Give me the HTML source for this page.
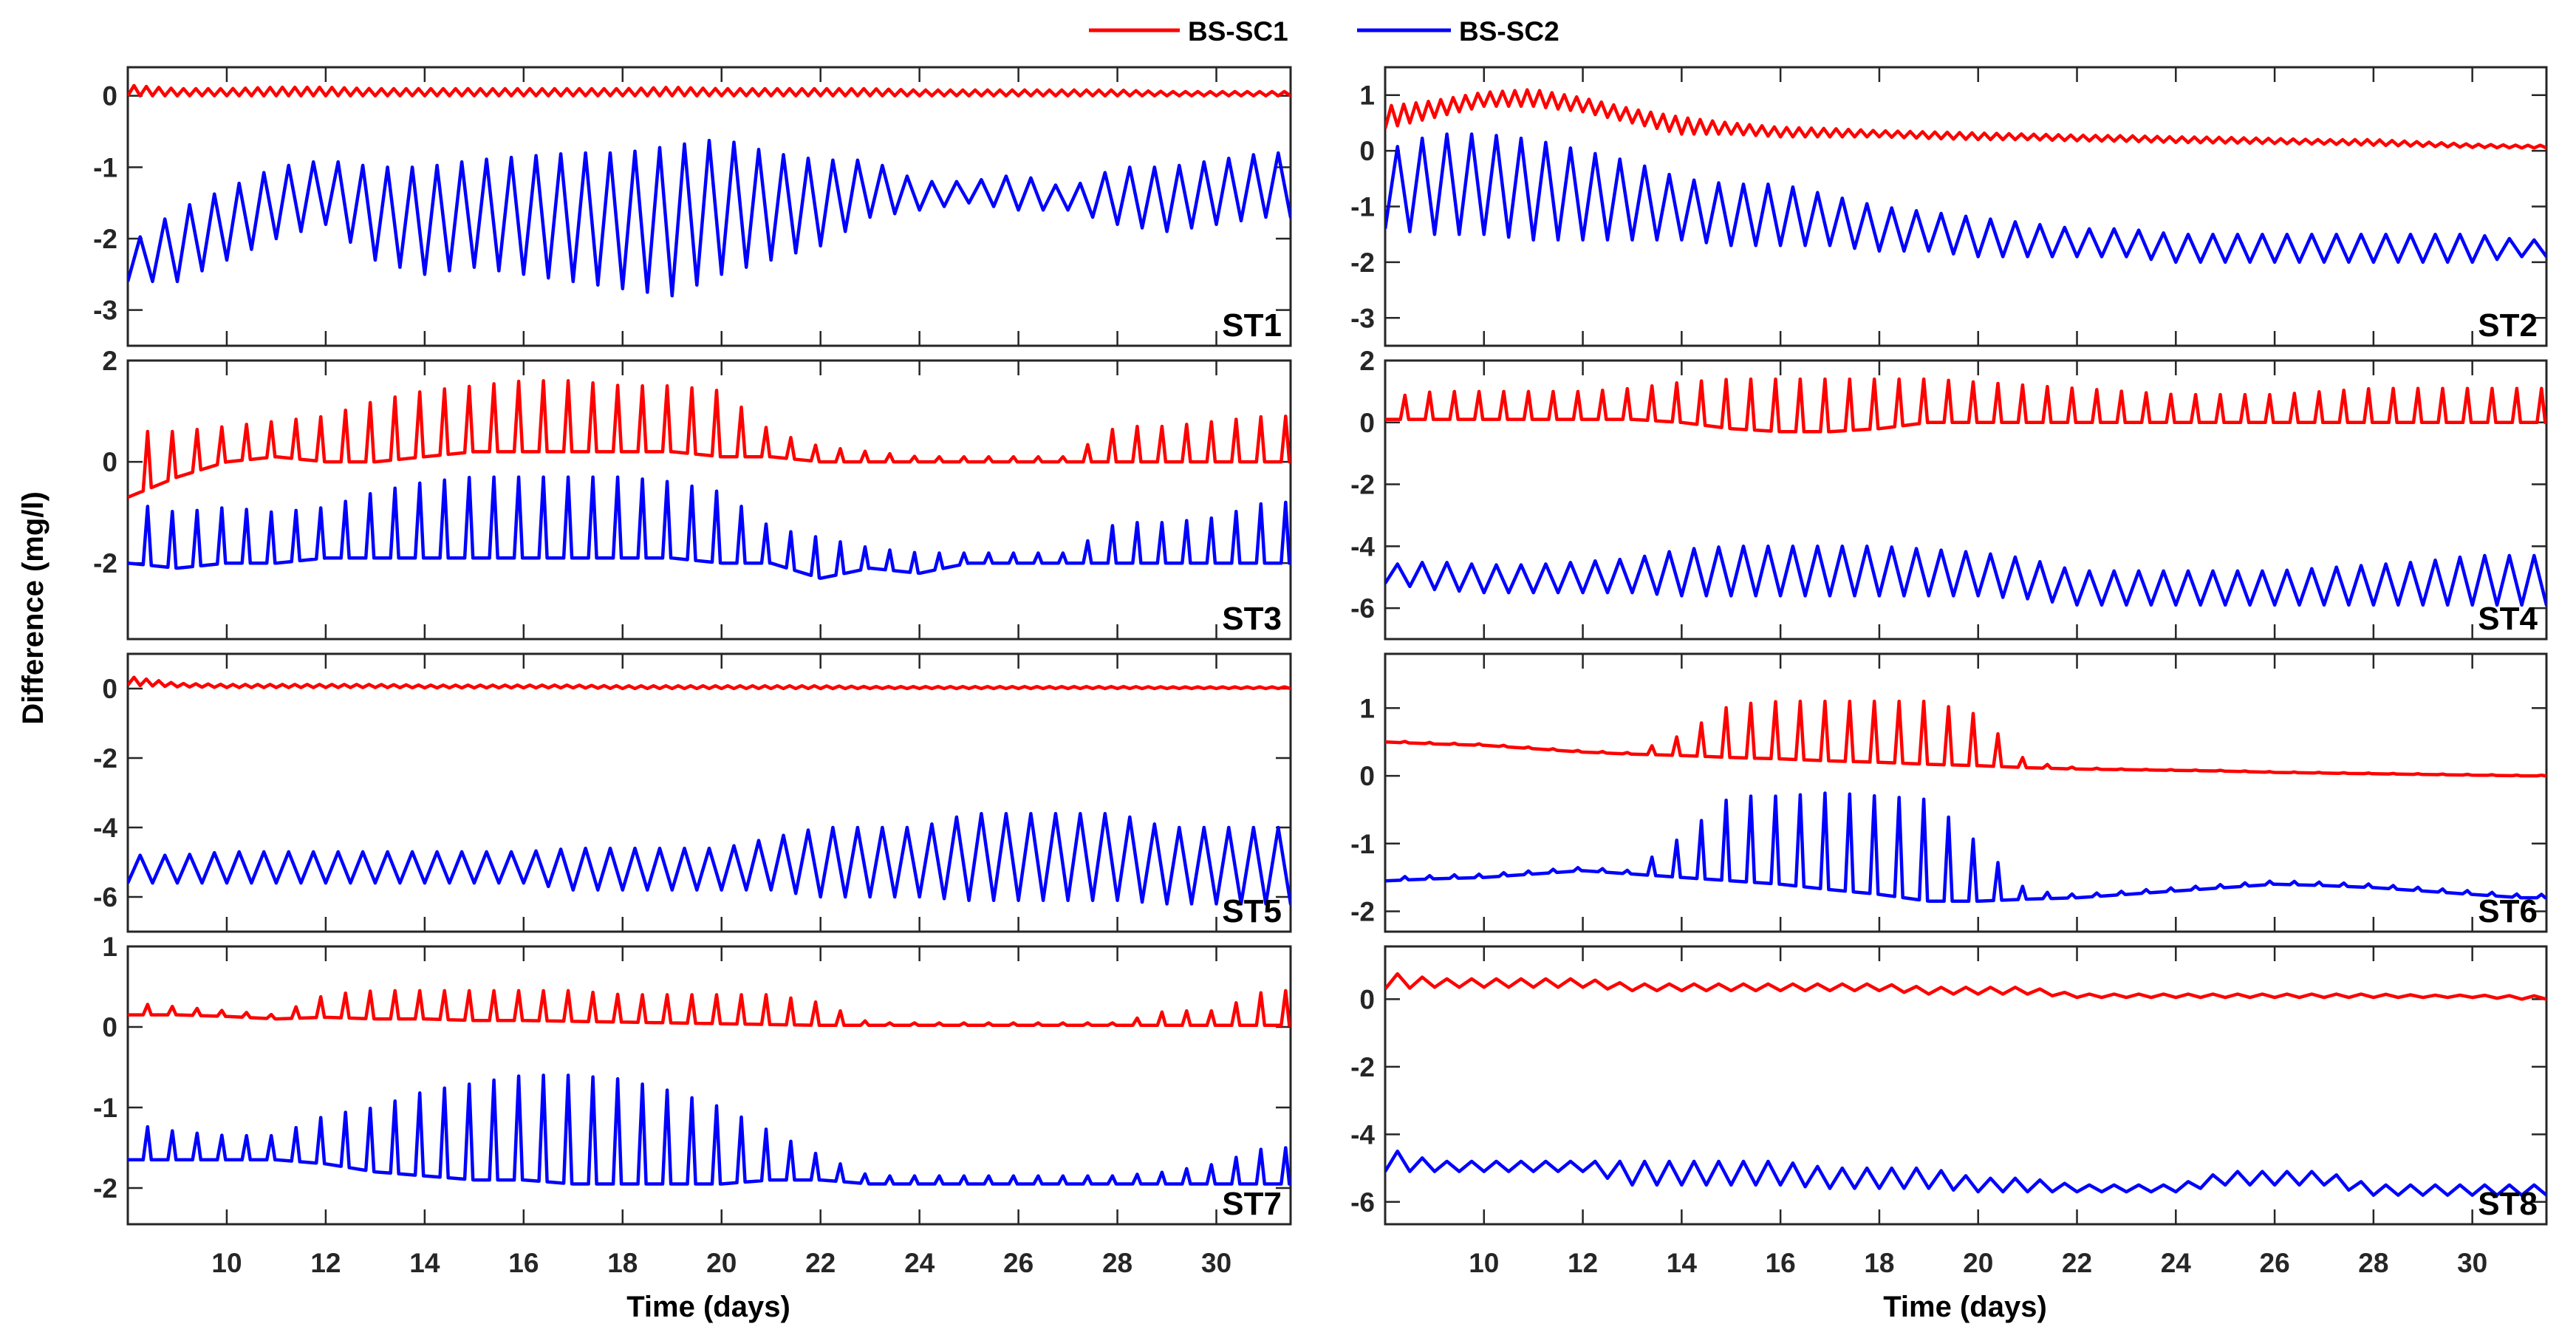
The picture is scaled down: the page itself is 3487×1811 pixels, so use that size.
<!DOCTYPE html>
<html><head><meta charset="utf-8"><style>
html,body{margin:0;padding:0;background:#fff;}
svg{display:block;font-family:"Liberation Sans",Arial,sans-serif;font-weight:bold;}
</style></head><body>
<svg id="fig" width="3487" height="1811" viewBox="0 0 3487 1811" xmlns="http://www.w3.org/2000/svg">
<g>
<line x1="1474" y1="41" x2="1597" y2="41" stroke="#ff0000" stroke-width="5"/>
<text x="1608" y="55" font-size="37">BS-SC1</text>
<line x1="1837" y1="41" x2="1964" y2="41" stroke="#0000ff" stroke-width="5"/>
<text x="1975" y="55" font-size="37">BS-SC2</text>
</g>
<text transform="translate(58,823) rotate(-90)" text-anchor="middle" font-size="40">Difference (mg/l)</text>
<text x="959" y="1782" text-anchor="middle" font-size="40">Time (days)</text>
<text x="2660" y="1782" text-anchor="middle" font-size="40">Time (days)</text>
<g id="panels"></g>
</svg>
<script>
const days = [8,9,10,11,12,13,14,15,16,17,18,19,20,21,22,23,24,25,26,27,28,29,30,31];
const xTicks = [10,12,14,16,18,20,22,24,26,28,30];

const st1Yticks=[0,-1,-2,-3];
const st1RedLo=[0,0,0,0,0,0,0,0,0,0,0,0,0,0,0,0,0,0,0,0,0,0,0,0];
const st1RedHi=[0.15,0.1,0.1,0.12,0.12,0.1,0.1,0.1,0.1,0.1,0.1,0.12,0.1,0.1,0.1,0.1,0.08,0.08,0.08,0.08,0.08,0.06,0.06,0.06];
const st1BlueLo=[-2.6,-2.6,-2.3,-2.0,-1.8,-2.3,-2.5,-2.4,-2.5,-2.6,-2.7,-2.8,-2.5,-2.3,-2.1,-1.7,-1.6,-1.5,-1.6,-1.6,-1.8,-1.9,-1.8,-1.7];
const st1BlueHi=[-2.1,-1.6,-1.3,-1.0,-0.9,-1.0,-1.0,-0.9,-0.85,-0.8,-0.8,-0.7,-0.6,-0.8,-0.9,-0.9,-1.2,-1.2,-1.1,-1.3,-1.0,-1.0,-0.9,-0.8];

const st2Yticks=[1,0,-1,-2,-3];
const st2RedLo=[0.4,0.6,0.8,0.8,0.7,0.5,0.3,0.3,0.25,0.25,0.25,0.22,0.2,0.2,0.18,0.17,0.15,0.14,0.13,0.12,0.1,0.08,0.06,0.05];
const st2RedHi=[0.8,0.9,1.05,1.1,0.95,0.75,0.6,0.5,0.42,0.4,0.36,0.34,0.32,0.3,0.28,0.27,0.25,0.24,0.22,0.2,0.2,0.16,0.12,0.1];
const st2BlueLo=[-1.4,-1.5,-1.5,-1.6,-1.6,-1.6,-1.6,-1.7,-1.7,-1.7,-1.8,-1.8,-1.9,-1.9,-1.9,-1.9,-2.0,-2.0,-2.0,-2.0,-2.0,-2.0,-2.0,-1.9];
const st2BlueHi=[0.0,0.3,0.3,0.2,0.0,-0.2,-0.5,-0.6,-0.6,-0.8,-1.0,-1.1,-1.2,-1.3,-1.4,-1.4,-1.5,-1.5,-1.5,-1.5,-1.5,-1.5,-1.5,-1.6];

const st3Yticks=[2,0,-2];
const st3RedLo=[-0.7,-0.3,0,0.1,0,0,0.1,0.2,0.2,0.2,0.2,0.2,0.1,0.1,0,0,0,0,0,0,0,0,0,0];
const st3RedHi=[0.6,0.6,0.7,0.8,0.9,1.2,1.4,1.5,1.6,1.6,1.5,1.5,1.4,0.6,0.3,0.2,0.1,0.1,0.1,0.1,0.7,0.7,0.8,0.9];
const st3BlueLo=[-2.0,-2.1,-2.0,-2.0,-1.9,-1.9,-1.9,-1.9,-1.9,-1.9,-1.9,-1.9,-2.0,-2.0,-2.3,-2.1,-2.2,-2.0,-2.0,-2.0,-2.0,-2.0,-2.0,-2.0];
const st3BlueHi=[-0.8,-1.0,-0.9,-1.0,-0.9,-0.6,-0.4,-0.3,-0.3,-0.3,-0.3,-0.4,-0.6,-1.3,-1.5,-1.7,-1.8,-1.8,-1.8,-1.8,-1.2,-1.2,-1.1,-0.8];

const st4Yticks=[2,0,-2,-4,-6];
const st4RedLo=[0.1,0.1,0.1,0.1,0.1,0.1,0,-0.2,-0.3,-0.3,-0.2,0,0,0,0,0,0,0,0,0,0,0,0,0];
const st4RedHi=[0.8,1.0,1.0,1.0,1.0,1.1,1.3,1.4,1.4,1.4,1.4,1.4,1.3,1.2,1.1,1.0,0.9,0.9,0.9,1.0,1.1,1.1,1.1,1.1];
const st4BlueLo=[-5.2,-5.4,-5.5,-5.5,-5.5,-5.5,-5.6,-5.6,-5.6,-5.6,-5.6,-5.6,-5.6,-5.7,-5.9,-5.9,-5.9,-5.9,-5.9,-5.9,-5.9,-5.9,-5.9,-5.9];
const st4BlueHi=[-4.6,-4.5,-4.6,-4.6,-4.5,-4.4,-4.1,-4.0,-4.0,-4.0,-4.0,-4.1,-4.2,-4.4,-4.8,-4.8,-4.8,-4.8,-4.8,-4.7,-4.6,-4.5,-4.3,-4.3];

const st5Yticks=[0,-2,-4,-6];
const st5RedLo=[0.1,0.05,0.03,0.03,0.03,0.03,0.02,0.02,0.02,0.02,0.0,0,0,0,0,0,0,0,0,0,0,0,0,0];
const st5RedHi=[0.35,0.15,0.12,0.12,0.12,0.12,0.1,0.1,0.1,0.1,0.08,0.08,0.08,0.08,0.08,0.06,0.06,0.06,0.06,0.06,0.06,0.05,0.05,0.05];
const st5BlueLo=[-5.6,-5.6,-5.6,-5.6,-5.6,-5.6,-5.6,-5.6,-5.6,-5.8,-5.8,-5.8,-5.8,-5.8,-6.0,-6.0,-6.0,-6.1,-6.1,-6.1,-6.1,-6.2,-6.2,-6.2];
const st5BlueHi=[-4.8,-4.8,-4.7,-4.7,-4.7,-4.7,-4.7,-4.7,-4.7,-4.6,-4.6,-4.6,-4.6,-4.3,-4.0,-4.0,-4.0,-3.6,-3.6,-3.6,-3.6,-4.0,-4.0,-4.0];

const st6Yticks=[1,0,-1,-2];
const st6RedLo=[0.5,0.47,0.45,0.4,0.35,0.32,0.3,0.27,0.25,0.22,0.2,0.17,0.15,0.12,0.1,0.09,0.08,0.07,0.05,0.04,0.03,0.02,0.01,0.0];
const st6RedHi=[0.52,0.49,0.47,0.42,0.37,0.34,0.6,1.05,1.1,1.1,1.1,1.1,0.9,0.2,0.12,0.1,0.09,0.08,0.06,0.05,0.04,0.03,0.02,0.01];
const st6BlueLo=[-1.55,-1.52,-1.5,-1.45,-1.4,-1.45,-1.5,-1.55,-1.6,-1.68,-1.75,-1.85,-1.85,-1.82,-1.8,-1.75,-1.7,-1.65,-1.6,-1.62,-1.65,-1.7,-1.75,-1.8];
const st6BlueHi=[-1.5,-1.47,-1.45,-1.4,-1.35,-1.4,-0.9,-0.3,-0.3,-0.25,-0.3,-0.35,-1.0,-1.7,-1.75,-1.7,-1.65,-1.6,-1.55,-1.57,-1.6,-1.65,-1.7,-1.75];

const st7Yticks=[1,0,-1,-2];
const st7RedLo=[0.15,0.15,0.13,0.1,0.12,0.1,0.1,0.08,0.08,0.07,0.06,0.05,0.04,0.03,0.02,0.02,0.02,0.02,0.02,0.02,0.02,0.02,0.02,0.02];
const st7RedHi=[0.3,0.25,0.2,0.15,0.4,0.45,0.45,0.45,0.45,0.45,0.4,0.4,0.4,0.4,0.3,0.05,0.05,0.05,0.05,0.05,0.05,0.2,0.2,0.45];
const st7BlueLo=[-1.65,-1.65,-1.65,-1.65,-1.7,-1.8,-1.85,-1.9,-1.9,-1.95,-1.95,-1.95,-1.95,-1.9,-1.9,-1.95,-1.95,-1.95,-1.95,-1.95,-1.95,-1.95,-1.95,-1.95];
const st7BlueHi=[-1.2,-1.3,-1.35,-1.35,-1.1,-1.0,-0.8,-0.7,-0.6,-0.6,-0.65,-0.8,-1.0,-1.3,-1.6,-1.85,-1.85,-1.85,-1.85,-1.85,-1.85,-1.8,-1.7,-1.5];

const st8Yticks=[0,-2,-4,-6];
const st8RedLo=[0.3,0.35,0.35,0.35,0.35,0.25,0.25,0.25,0.25,0.25,0.25,0.15,0.15,0.15,0.05,0.05,0.05,0.05,0.05,0.05,0.05,0.05,0.05,0.0];
const st8RedHi=[0.8,0.6,0.6,0.6,0.6,0.45,0.45,0.45,0.45,0.45,0.45,0.35,0.35,0.35,0.15,0.15,0.15,0.15,0.15,0.15,0.15,0.12,0.12,0.1];
const st8BlueLo=[-5.1,-5.1,-5.1,-5.1,-5.1,-5.5,-5.5,-5.5,-5.5,-5.6,-5.6,-5.6,-5.7,-5.7,-5.7,-5.7,-5.7,-5.5,-5.5,-5.5,-5.8,-5.8,-5.8,-5.8];
const st8BlueHi=[-4.4,-4.8,-4.8,-4.8,-4.8,-4.8,-4.8,-4.8,-4.8,-5.0,-5.0,-5.0,-5.3,-5.3,-5.5,-5.5,-5.5,-5.1,-5.1,-5.1,-5.5,-5.5,-5.5,-5.5];

const NS='http://www.w3.org/2000/svg';
const XMIN=8, XMAX=31.5;
const panels=[
 {name:'ST1',x0:173,x1:1747,y0:91,y1:468,ymin:-3.5,ymax:0.4,yt:st1Yticks,red:[st1RedLo,st1RedHi,0.25,'osc'],blue:[st1BlueLo,st1BlueHi,0.5,'osc'],xl:false},
 {name:'ST2',x0:1875,x1:3447,y0:91,y1:468,ymin:-3.5,ymax:1.5,yt:st2Yticks,red:[st2RedLo,st2RedHi,0.25,'osc'],blue:[st2BlueLo,st2BlueHi,0.5,'osc'],xl:false},
 {name:'ST3',x0:173,x1:1747,y0:488,y1:865,ymin:-3.5,ymax:2,yt:st3Yticks,red:[st3RedLo,st3RedHi,0.5,'spike'],blue:[st3BlueLo,st3BlueHi,0.5,'spike'],xl:false},
 {name:'ST4',x0:1875,x1:3447,y0:488,y1:865,ymin:-7,ymax:2,yt:st4Yticks,red:[st4RedLo,st4RedHi,0.5,'spike'],blue:[st4BlueLo,st4BlueHi,0.5,'osc'],xl:false},
 {name:'ST5',x0:173,x1:1747,y0:885,y1:1261,ymin:-7,ymax:1,yt:st5Yticks,red:[st5RedLo,st5RedHi,0.25,'osc'],blue:[st5BlueLo,st5BlueHi,0.5,'osc'],xl:false},
 {name:'ST6',x0:1875,x1:3447,y0:885,y1:1261,ymin:-2.3,ymax:1.8,yt:st6Yticks,red:[st6RedLo,st6RedHi,0.5,'spike'],blue:[st6BlueLo,st6BlueHi,0.5,'spike'],xl:false},
 {name:'ST7',x0:173,x1:1747,y0:1281,y1:1657,ymin:-2.45,ymax:1,yt:st7Yticks,red:[st7RedLo,st7RedHi,0.5,'spike'],blue:[st7BlueLo,st7BlueHi,0.5,'spike'],xl:true},
 {name:'ST8',x0:1875,x1:3447,y0:1281,y1:1657,ymin:-6.66,ymax:1.56,yt:st8Yticks,red:[st8RedLo,st8RedHi,0.5,'osc'],blue:[st8BlueLo,st8BlueHi,0.5,'osc'],xl:true}
];
function mk(tag,attrs,parent){const e=document.createElementNS(NS,tag);for(const k in attrs)e.setAttribute(k,attrs[k]);parent.appendChild(e);return e;}
function env(arr,t){let i=Math.floor(t-days[0]);if(i<0)i=0;if(i>=arr.length-1)return arr[arr.length-1];const f=t-days[i];return arr[i]+(arr[i+1]-arr[i])*f;}
const root=document.getElementById('panels');
panels.forEach(p=>{
 const id=p.name.toLowerCase();
 const g=mk('g',{},root);
 
 
 const sx=v=>p.x0+(v-XMIN)/(XMAX-XMIN)*(p.x1-p.x0);
 const sy=v=>p.y1-(v-p.ymin)/(p.ymax-p.ymin)*(p.y1-p.y0);
 const box=mk('rect',{x:p.x0,y:p.y0,width:p.x1-p.x0,height:p.y1-p.y0,fill:'#fff',stroke:'#262626',"stroke-width":3},g);
 
 
 const cp=mk('clipPath',{id:'c'+id},g);
 mk('rect',{x:p.x0,y:p.y0,width:p.x1-p.x0,height:p.y1-p.y0},cp);
 xTicks.forEach(t=>{
  const x=sx(t);
  const tk=mk('path',{d:`M${x},${p.y1}v-20M${x},${p.y0}v20`,stroke:'#262626',"stroke-width":2.5},g);
  
  
  if(p.xl){const tl=mk('text',{x:x,y:1722,"text-anchor":'middle',"font-size":37,fill:'#262626'},g);tl.textContent=t;
   
   }
 });
 p.yt.forEach(t=>{
  const y=sy(t);
  const tk=mk('path',{d:`M${p.x0},${y}h20M${p.x1},${y}h-20`,stroke:'#262626',"stroke-width":2.5},g);
  
  
  const tl=mk('text',{x:p.x0-14,y:y+13,"text-anchor":'end',"font-size":37,fill:'#262626'},g);tl.textContent=t;
  
  
 });
 [['red','#ff0000','bs-sc1'],['blue','#0000ff','bs-sc2']].forEach(([k,col,nm])=>{
  const [lo,hi,per,shape]=p[k];
  const pts=[];
  for(let t=XMIN;t<=XMAX+per;t+=per){
   if(shape==='osc'){pts.push([t,env(lo,t)]);pts.push([t+per/2,env(hi,t+per/2)]);}
   else{pts.push([t,env(lo,t)]);pts.push([t+per*0.62,env(lo,t+per*0.62)]);pts.push([t+per*0.8,env(hi,t+per*0.8)]);pts.push([t+per*0.95,env(lo,t+per*0.95)]);}
  }
  const d=pts.map((q,i)=>(i?'L':'M')+sx(q[0]).toFixed(1)+','+sy(q[1]).toFixed(1)).join('');
  const ln=mk('path',{d:d,fill:'none',stroke:col,"stroke-width":4.5,"stroke-linejoin":'round',"clip-path":`url(#c${id})`},g);
  
  
 });
 const lb=mk('text',{x:p.x1-12,y:p.y1-13,"text-anchor":'end',"font-size":44,fill:'#000'},g);lb.textContent=p.name;
 
 
});
</script>
</body></html>
